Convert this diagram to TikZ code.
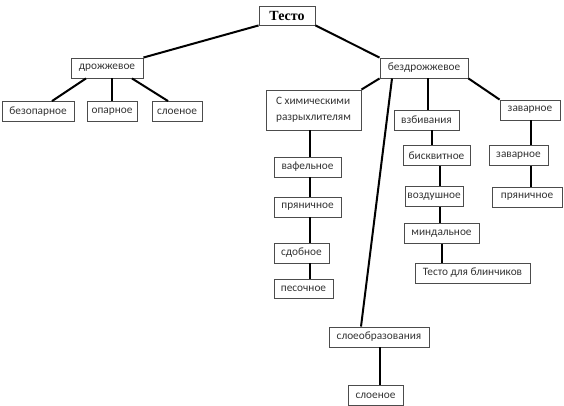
\documentclass[tikz,border=0pt]{standalone}
\usepackage{fontspec}
\setmainfont{Carlito}
\newfontfamily\titlefont{Liberation Serif}
\begin{document}
\begin{tikzpicture}[x=1pt,y=-1pt,
  box/.style={draw=black!70,line width=0.9pt,inner sep=0pt,minimum height=20pt,
    font=\fontsize{11.3}{13}\selectfont,text=black!80},
  link/.style={line width=2pt,black}]
\useasboundingbox (0,0) rectangle (564,406);
\node[box,minimum width=56pt,minimum height=19pt,font=\titlefont\bfseries\fontsize{14}{16}\selectfont,text=black] (testo) at (287,15.5) {Тесто};
\node[box,minimum width=72pt] (drozh) at (107,68) {дрожжевое};
\node[box,minimum width=88pt] (bezdrozh) at (424,68) {бездрожжевое};
\node[box,minimum width=72pt] (bezop) at (38,111.5) {безопарное};
\node[box,minimum width=50pt] (opar) at (112,111.5) {опарное};
\node[box,minimum width=50pt] (sloe1) at (177,111.5) {слоеное};
\node[box,minimum width=95pt,minimum height=40pt,align=left,font=\fontsize{11.3}{16}\selectfont] (chem) at (313.5,110) {С химическими\\разрыхлителям};
\node[box,minimum width=65pt] (vzbiv) at (426.5,120) {взбивания};
\node[box,minimum width=60pt] (zavar1) at (530,110) {заварное};
\node[box,minimum width=67pt] (vafel) at (307.5,167) {вафельное};
\node[box,minimum width=67pt] (pryan1) at (307.5,207) {пряничное};
\node[box,minimum width=55pt] (sdob) at (301.5,253) {сдобное};
\node[box,minimum width=59pt,minimum height=19pt] (pesoch) at (303.5,288.5) {песочное};
\node[box,minimum width=67pt] (biskv) at (436.5,155.5) {бисквитное};
\node[box,minimum width=58pt] (vozd) at (434,196.5) {воздушное};
\node[box,minimum width=75pt] (mind) at (441.5,233.5) {миндальное};
\node[box,minimum width=115pt] (blin) at (472.5,273) {Тесто для блинчиков};
\node[box,minimum width=59pt] (zavar2) at (518.5,155.5) {заварное};
\node[box,minimum width=70pt] (pryan2) at (527,197) {пряничное};
\node[box,minimum width=100pt] (sloeobr) at (379,337) {слоеобразования};
\node[box,minimum width=55pt] (sloe2) at (375.5,395.5) {слоеное};
% connectors
\draw[link] (testo.south west) -- (drozh.north east);
\draw[link] (testo.south east) -- (bezdrozh.north west);
\draw[link] ([xshift=-21pt]drozh.south) -- ([xshift=14pt]bezop.north);
\draw[link] ([xshift=5pt]drozh.south) -- (opar.north);
\draw[link] ([xshift=25pt]drozh.south) -- ([xshift=-9pt]sloe1.north);
\draw[link] (bezdrozh.south west) -- (chem.north east);
\draw[link] ([xshift=-32pt]bezdrozh.south) -- ([xshift=-18pt]sloeobr.north);
\draw[link] ([xshift=4pt]bezdrozh.south) -- ([xshift=4pt]bezdrozh.south |- vzbiv.north);
\draw[link] (bezdrozh.south east) -- (zavar1.north west);
\draw[link] ([xshift=-3.5pt]chem.south) -- ([xshift=-3.5pt]chem.south |- vafel.north);
\draw[link] ([xshift=2.5pt]vafel.south) -- ([xshift=2.5pt]vafel.south |- pryan1.north);
\draw[link] ([xshift=2.5pt]pryan1.south) -- ([xshift=2.5pt]pryan1.south |- sdob.north);
\draw[link] ([xshift=8.5pt]sdob.south) -- ([xshift=8.5pt]sdob.south |- pesoch.north);
\draw[link] ([xshift=5.5pt]vzbiv.south) -- ([xshift=5.5pt]vzbiv.south |- biskv.north);
\draw[link] ([xshift=3pt]biskv.south) -- ([xshift=3pt]biskv.south |- vozd.north);
\draw[link] ([xshift=6pt]vozd.south) -- ([xshift=6pt]vozd.south |- mind.north);
\draw[link] ([xshift=0.2pt]mind.south) -- ([xshift=0.2pt]mind.south |- blin.north);
\draw[link] ([xshift=1pt]zavar1.south) -- ([xshift=1pt]zavar1.south |- zavar2.north);
\draw[link] ([xshift=12.5pt]zavar2.south) -- ([xshift=12.5pt]zavar2.south |- pryan2.north);
\draw[link] ([xshift=1pt]sloeobr.south) -- ([xshift=1pt]sloeobr.south |- sloe2.north);
\end{tikzpicture}
\end{document}
